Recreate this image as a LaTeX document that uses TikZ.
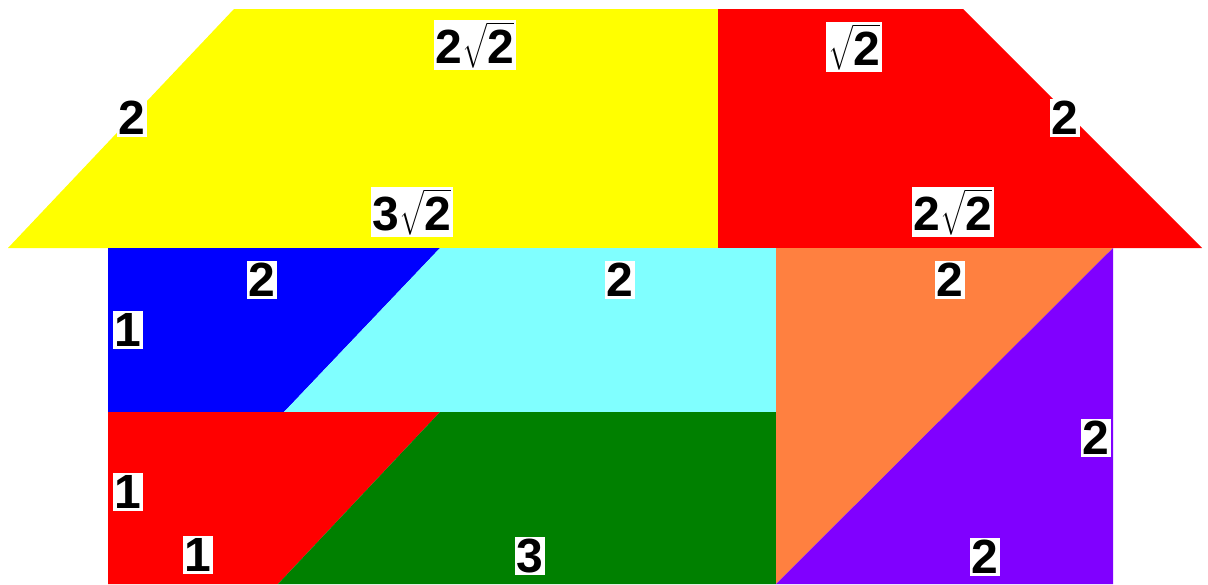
\documentclass[tikz,border=0pt]{standalone}
\usepackage{exscale}
\usepackage{fontspec}
\setmainfont{Liberation Sans}
\definecolor{roofyellow}{HTML}{FFFF00}
\definecolor{roofred}{HTML}{FF0000}
\definecolor{wallblue}{HTML}{0000FF}
\definecolor{wallcyan}{HTML}{80FFFF}
\definecolor{wallred}{HTML}{FF0000}
\definecolor{wallgreen}{HTML}{008000}
\definecolor{wallorange}{HTML}{FF8040}
\definecolor{wallpurple}{HTML}{8000FF}
\newcommand{\rtwo}{$\sqrt{\textbf{2}}$}
\tikzset{lbl/.style={fill=white, inner sep=2pt, font=\fontsize{48}{48}\selectfont\bfseries}}
\begin{document}
\begin{tikzpicture}[x=1pt, y=-1pt]
\useasboundingbox (0,0) rectangle (1208,584);
% roof
\fill[roofyellow] (234,9) -- (718,9) -- (718,248) -- (8,248) -- cycle;
\fill[roofred] (718,9) -- (963,9) -- (1202,248) -- (718,248) -- cycle;
% walls
\fill[wallblue] (108,248) -- (440,248) -- (284,412) -- (108,412) -- cycle;
\fill[wallcyan] (440,248) -- (776,248) -- (776,412) -- (284,412) -- cycle;
\fill[wallred] (108,412) -- (440,412) -- (278,584) -- (108,584) -- cycle;
\fill[wallgreen] (440,412) -- (776,412) -- (776,584) -- (278,584) -- cycle;
\fill[wallorange] (776,248) -- (1113,248) -- (776,584) -- cycle;
\fill[wallpurple] (1113,248) -- (1113,584) -- (776,584) -- cycle;
% labels
\node[lbl] (ytop) at (475,45) {2\rtwo};
\node[lbl] (yleft) at (132,118) {2};
\node[lbl] (ybot) at (412,212) {3\rtwo};
\node[lbl] (rtop) at (854,47) {\rtwo};
\node[lbl] (rright) at (1065,118) {2};
\node[lbl] (rbot) at (953,212) {2\rtwo};
\node[lbl] (btop) at (262,280) {2};
\node[lbl] (bleft) at (128,330) {1};
\node[lbl] (ctop) at (620,280) {2};
\node[lbl] (otop) at (950,280) {2};
\node[lbl] (lleft) at (128,492) {1};
\node[lbl] (lbot) at (198,555) {1};
\node[lbl] (gbot) at (530,556) {3};
\node[lbl] (pright) at (1096,438) {2};
\node[lbl] (pbot) at (985,557) {2};
\end{tikzpicture}
\end{document}
